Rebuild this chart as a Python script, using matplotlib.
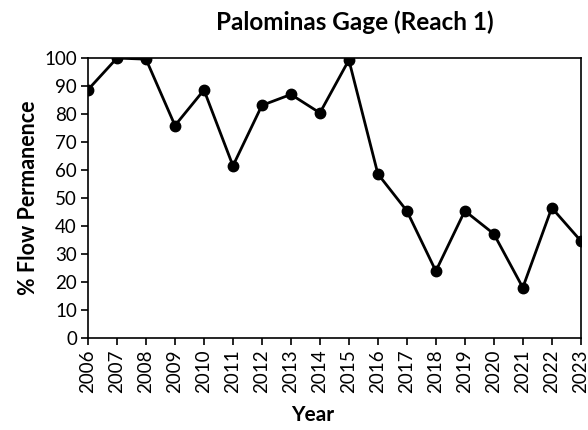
import numpy as np
import matplotlib
matplotlib.use('Agg')
import matplotlib.pyplot as plt

years = [2006, 2007, 2008, 2009, 2010, 2011, 2012, 2013, 2014,
         2015, 2016, 2017, 2018, 2019, 2020, 2021, 2022, 2023]
flow_perm = [88.7, 100.0, 99.6, 75.9, 88.6, 61.5, 83.1, 87.0, 80.4,
             99.3, 58.6, 45.4, 23.9, 45.4, 37.2, 18.0, 46.5, 34.7]

plt.rcParams['font.family'] = ['Lato', 'DejaVu Sans']

fig = plt.figure(figsize=(5.88, 4.30), dpi=100)
ax = fig.add_axes([0.1497, 0.214, 0.838, 0.651])

ax.plot(years, flow_perm, '-o', color='black', linewidth=2, markersize=7.5)

ax.set_xlim(2006, 2023)
ax.set_ylim(0, 100)
ax.set_xticks(years)
ax.set_xticklabels([str(y) for y in years], rotation=90, fontsize=13.5)
ax.set_yticks(np.arange(0, 101, 10))
ax.tick_params(axis='y', labelsize=13.5, direction='out', length=5, width=1.2, pad=3)
ax.tick_params(axis='x', direction='out', length=5, width=1.2, pad=3)
for s in ax.spines.values():
    s.set_linewidth(1.2)

# title and x label are offset from the axes centre in the original
fig.text(0.604, 0.949, 'Palominas Gage (Reach 1)', fontsize=17.5, fontweight='bold',
         ha='center', va='center')
fig.text(0.532, 0.035, 'Year', fontsize=15, fontweight='bold', ha='center', va='center')
ax.set_ylabel('% Flow Permanence', fontsize=15.5, fontweight='bold', labelpad=4)

fig.savefig('out.png', dpi=100)
